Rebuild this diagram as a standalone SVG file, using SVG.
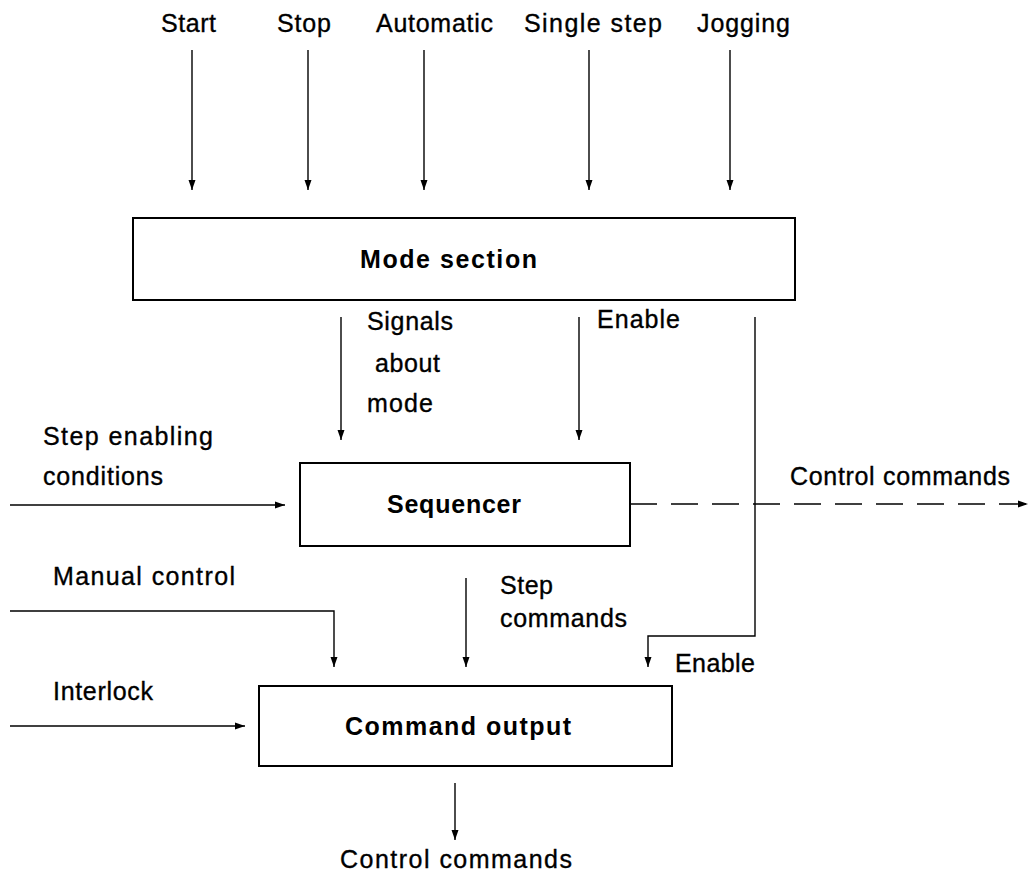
<svg xmlns="http://www.w3.org/2000/svg" width="1029" height="875" viewBox="0 0 1029 875">
  <style>
    .lbl { font-family: "Liberation Sans", Arial, sans-serif; font-size: 25px; fill: #000; stroke: #000; stroke-width: 0.35; }
    .title { font-family: "Liberation Sans", Arial, sans-serif; font-size: 25px; font-weight: bold; fill: #000; }
    .box { fill: #fff; stroke: #000; stroke-width: 2; }
    .wire { fill: none; stroke: #000; stroke-width: 1.4; }
    .arrow { marker-end: url(#head); }
    .dash { stroke-dasharray: 27 14; }
  </style>
  <defs>
    <marker id="head" markerUnits="userSpaceOnUse" markerWidth="10" markerHeight="8" refX="10" refY="4" orient="auto">
      <path d="M0,0.5 L10,4 L0,7.5 z" fill="#000"/>
    </marker>
  </defs>

  <rect width="1029" height="875" fill="#fff"/>

  <!-- operating-mode inputs -->
  <g id="inputs">
    <text class="lbl" x="161" y="32" textLength="55" lengthAdjust="spacing">Start</text>
    <text class="lbl" x="277" y="32" textLength="54" lengthAdjust="spacing">Stop</text>
    <text class="lbl" x="376" y="32" textLength="117" lengthAdjust="spacing">Automatic</text>
    <text class="lbl" x="524" y="32" textLength="138" lengthAdjust="spacing">Single step</text>
    <text class="lbl" x="697" y="32" textLength="93" lengthAdjust="spacing">Jogging</text>
  </g>

  <g id="mode-section">
    <rect class="box" x="133" y="218" width="662" height="82"/>
    <text class="title" x="360" y="268" textLength="177" lengthAdjust="spacing">Mode section</text>
  </g>

  <g id="sequencer">
    <rect class="box" x="300" y="463" width="330" height="83"/>
    <text class="title" x="387" y="513" textLength="134" lengthAdjust="spacing">Sequencer</text>
  </g>

  <g id="command-output">
    <rect class="box" x="259" y="686" width="413" height="80"/>
    <text class="title" x="345" y="735" textLength="226" lengthAdjust="spacing">Command output</text>
  </g>

  <!-- signal lines -->
  <g id="connectors">
    <line class="wire arrow" x1="192" y1="50" x2="192" y2="190"/>
    <line class="wire arrow" x1="308" y1="50" x2="308" y2="190"/>
    <line class="wire arrow" x1="424" y1="50" x2="424" y2="190"/>
    <line class="wire arrow" x1="589" y1="50" x2="589" y2="190"/>
    <line class="wire arrow" x1="730" y1="50" x2="730" y2="190"/>

    <line class="wire arrow" x1="341" y1="317" x2="341" y2="440"/>
    <line class="wire arrow" x1="579" y1="317" x2="579" y2="440"/>
    <path class="wire arrow" d="M755,317 V636 H648 V667"/>

    <line class="wire arrow" x1="10" y1="505" x2="285" y2="505"/>
    <line class="wire dash arrow" x1="630" y1="504" x2="1028" y2="504"/>

    <path class="wire arrow" d="M10,611 H334 V667"/>
    <line class="wire arrow" x1="466" y1="578" x2="466" y2="667"/>
    <line class="wire arrow" x1="10" y1="726" x2="245" y2="726"/>

    <line class="wire arrow" x1="455" y1="783" x2="455" y2="840"/>
  </g>

  <!-- connector labels -->
  <g id="labels">
    <text class="lbl" x="367" y="330" textLength="86" lengthAdjust="spacing">Signals</text>
    <text class="lbl" x="375" y="372" textLength="65" lengthAdjust="spacing">about</text>
    <text class="lbl" x="367" y="412" textLength="66" lengthAdjust="spacing">mode</text>
    <text class="lbl" x="597" y="328" textLength="83" lengthAdjust="spacing">Enable</text>
    <text class="lbl" x="43" y="445" textLength="170" lengthAdjust="spacing">Step enabling</text>
    <text class="lbl" x="43" y="485" textLength="120" lengthAdjust="spacing">conditions</text>
    <text class="lbl" x="790" y="485" textLength="220" lengthAdjust="spacing">Control commands</text>
    <text class="lbl" x="53" y="585" textLength="182" lengthAdjust="spacing">Manual control</text>
    <text class="lbl" x="500" y="594" textLength="53" lengthAdjust="spacing">Step</text>
    <text class="lbl" x="500" y="627" textLength="127" lengthAdjust="spacing">commands</text>
    <text class="lbl" x="675" y="672" textLength="80" lengthAdjust="spacing">Enable</text>
    <text class="lbl" x="53" y="700" textLength="100" lengthAdjust="spacing">Interlock</text>
    <text class="lbl" x="340" y="868" textLength="232" lengthAdjust="spacing">Control commands</text>
  </g>
</svg>
